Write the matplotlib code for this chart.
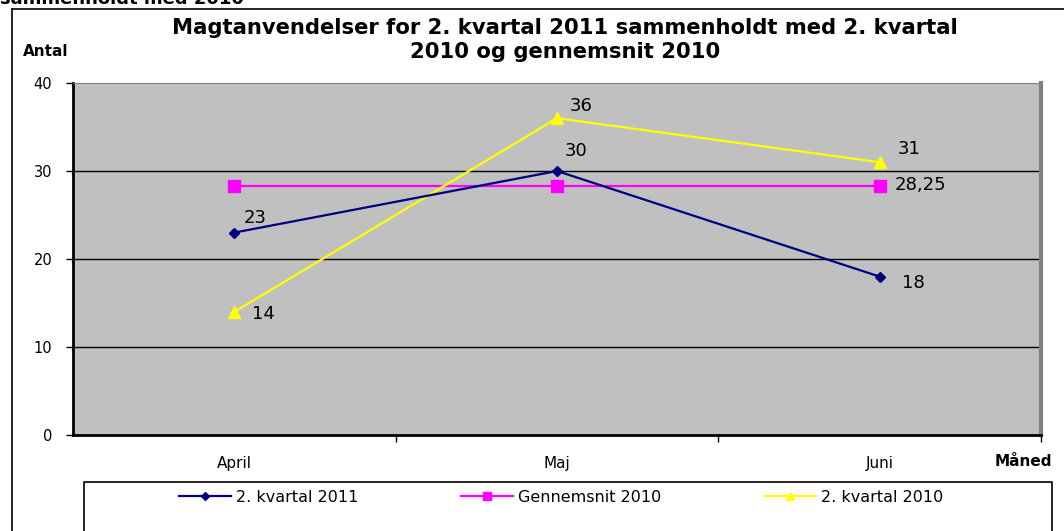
import matplotlib
matplotlib.use("Agg")
from matplotlib import pyplot as plt
from matplotlib.lines import Line2D

plt.rcParams['font.family'] = ['DejaVu Sans']

# data
months = ["April", "Maj", "Juni"]
kvartal_2011 = [23, 30, 18]
gennemsnit_2010 = [28.25, 28.25, 28.25]
kvartal_2010 = [14, 36, 31]
labels_2011 = ["23", "30", "18"]
labels_snit = ["", "", "28,25"]
labels_2010 = ["14", "36", "31"]

W, H = 1064, 531
fig = plt.figure(figsize=(W / 100, H / 100), dpi=100)
fig.patch.set_facecolor("white")

# outer chart frame (cut by the image edges)
fig.add_artist(Line2D([12 / W, 12 / W], [0, 1 - 9 / H], color="black", lw=1.2))
fig.add_artist(Line2D([12 / W, 1], [1 - 9 / H, 1 - 9 / H], color="black", lw=1.2))

# cut-off caption at the very top
fig.text(0.0, 1 + 1 / H, "sammenholdt med 2010", fontsize=13, fontweight="bold",
         ha="left", va="center")

ax = fig.add_axes([73 / W, 1 - 435 / H, (1041 - 73) / W, (435 - 83) / H])
ax.set_facecolor("#c0c0c0")

x = range(len(months))
ax.plot(x, kvartal_2011, color="#000080", lw=1.6, marker="D", ms=5.5,
        label="2. kvartal 2011", zorder=4)
ax.plot(x, gennemsnit_2010, color="#ff00ff", lw=1.6, marker="s", ms=8,
        label="Gennemsnit 2010", zorder=3)
ax.plot(x, kvartal_2010, color="#ffff00", lw=1.6, marker="^", ms=8,
        label="2. kvartal 2010", zorder=3)

# data labels (offsets in pixels)
offs_2011 = [(9, 15), (8, 20), (22, -6)]
offs_2010 = [(18, -2), (13, 12), (18, 13)]
for i, v in enumerate(kvartal_2011):
    ax.annotate(labels_2011[i], (i, v), xytext=offs_2011[i], textcoords="offset pixels",
                ha="left", va="center", fontsize=13)
for i, v in enumerate(kvartal_2010):
    ax.annotate(labels_2010[i], (i, v), xytext=offs_2010[i], textcoords="offset pixels",
                ha="left", va="center", fontsize=13)
for i, v in enumerate(gennemsnit_2010):
    if labels_snit[i]:
        ax.annotate(labels_snit[i], (i, v), xytext=(15, 1), textcoords="offset pixels",
                    ha="left", va="center", fontsize=13)

ax.set_xlim(-0.5, 2.5)
ax.set_ylim(0, 40)
ax.set_yticks([0, 10, 20, 30, 40])
ax.set_xticks(list(x))
ax.set_xticklabels(months)
ax.set_xticks([0.5, 1.5, 2.5], minor=True)
ax.tick_params(axis="x", which="major", length=0, pad=15, labelsize=11)
ax.tick_params(axis="x", which="minor", length=5, width=1, direction="out")
ax.tick_params(axis="y", length=5, width=1, direction="out", pad=10, labelsize=10.5)
for yv in [10, 20, 30]:
    ax.axhline(yv, color="black", lw=1, zorder=1)

ax.spines["left"].set_linewidth(2)
ax.spines["bottom"].set_linewidth(2)
ax.spines["top"].set_color("#808080")
ax.spines["right"].set_color("#808080")
ax.spines["right"].set_linewidth(3)

# axis titles
fig.text(23 / W, 1 - 52 / H, "Antal", fontsize=11, fontweight="bold", ha="left", va="center")
fig.text(995 / W, 1 - 461 / H, "Måned", fontsize=11, fontweight="bold", ha="left", va="center")

# title
fig.text(565 / W, 1 - 40 / H, "Magtanvendelser for 2. kvartal 2011 sammenholdt med 2. kvartal\n"
         "2010 og gennemsnit 2010", fontsize=15.2, fontweight="bold", ha="center",
         va="center", linespacing=1.25)

# legend box running off the bottom edge
fig.add_artist(Line2D([84 / W, 84 / W, 1052 / W, 1052 / W],
                      [0, 1 - 482 / H, 1 - 482 / H, 0], color="black", lw=1.2))
handles, lbls = ax.get_legend_handles_labels()
leg = fig.legend(handles, lbls, loc="center", bbox_to_anchor=(561 / W, 1 - 497 / H),
                 ncol=3, frameon=False, fontsize=11.5, handlelength=3.3,
                 columnspacing=6.4, handletextpad=0.3, markerscale=0.8)

fig.savefig("out.png", dpi=100)
